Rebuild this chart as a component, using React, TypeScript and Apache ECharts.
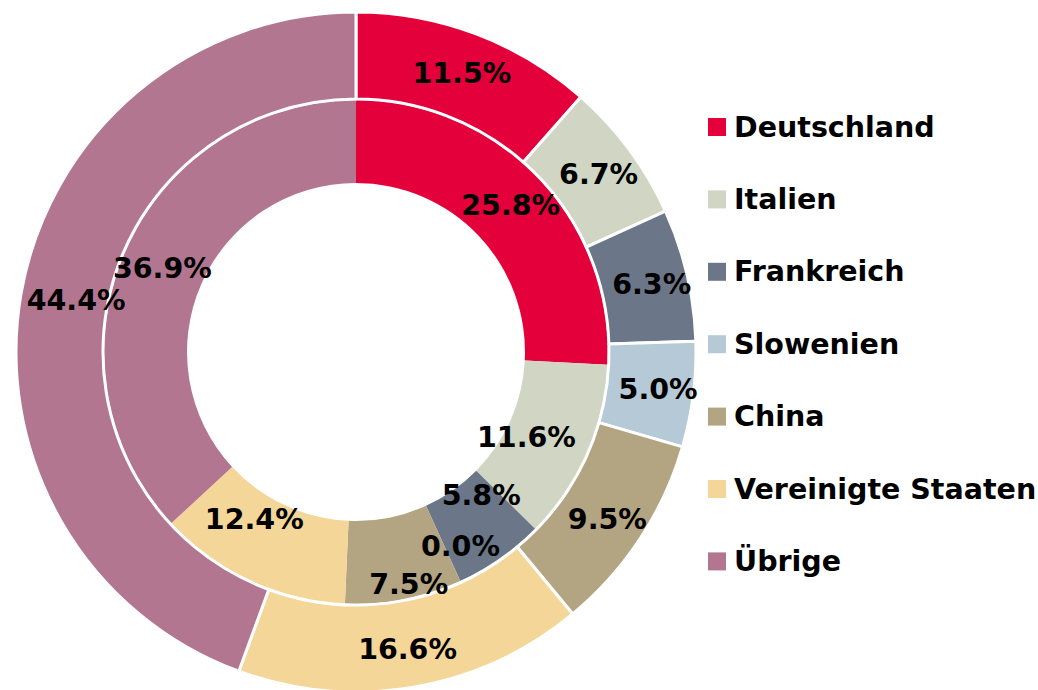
import React, { useEffect, useRef } from "react";
import * as echarts from "echarts";

const categories = ["Deutschland", "Italien", "Frankreich", "Slowenien", "China", "Vereinigte Staaten", "Übrige"];
const outerValues = [11.5, 6.7, 6.3, 5.0, 9.5, 16.6, 44.4];
const innerValues = [25.8, 11.6, 5.8, 0.0, 7.5, 12.4, 36.9];
const colors = ["#E4003A", "#D0D6C3", "#6B7788", "#B5C9D6", "#B3A582", "#F4D699", "#B27691"];

// label nudges to avoid overlaps (as in the reference)
const innerLabelOffsets: number[][] = [[0, 1], [-25, -1], [3, -32], [16, 0], [12, 23], [-12, -26], [2, 2]];
const outerLabelOffsets: number[][] = [[0, 2], [2, 1], [4, 1], [5, 0], [1, 3], [1, 2], [15, 1]];

const FONT = "'DejaVu Sans', sans-serif";

export default function App() {
  const ref = useRef<HTMLDivElement>(null);
  useEffect(() => {
    if (!ref.current) return;
    const chart = echarts.init(ref.current, undefined, { renderer: "svg" });
    const labelStyle = {
      show: true,
      position: "inside" as const,
      color: "#000",
      fontFamily: FONT,
      fontWeight: "bold" as const,
      fontSize: 28.5,
      formatter: (p: any) => p.value.toFixed(1) + "%",
    };
    chart.setOption({
      animation: false,
      color: colors,
      legend: {
        orient: "vertical",
        left: 708,
        top: 112,
        padding: 0,
        icon: "rect",
        itemWidth: 18,
        itemHeight: 18,
        itemGap: 42.4,
        selectedMode: false,
        data: categories,
        textStyle: {
          color: "#000",
          fontFamily: FONT,
          fontWeight: "bold",
          fontSize: 28.5,
          lineHeight: 30,
          padding: [0, 0, 0, 3],
        },
      },
      series: [
        {
          type: "pie",
          center: [356, 352],
          radius: [169, 252],
          startAngle: 90,
          clockwise: true,
          avoidLabelOverlap: false,
          minShowLabelAngle: 0,
          silent: true,
          itemStyle: { borderWidth: 0 },
          label: labelStyle,
          labelLine: { show: false },
          data: categories.map((name, i) => ({
            name,
            value: innerValues[i],
            label: { offset: innerLabelOffsets[i] },
          })),
        },
        {
          type: "pie",
          center: [356, 352],
          radius: [253, 340],
          startAngle: 90,
          clockwise: true,
          avoidLabelOverlap: false,
          silent: true,
          itemStyle: { borderColor: "#fff", borderWidth: 3 },
          label: labelStyle,
          labelLine: { show: false },
          data: categories.map((name, i) => ({
            name,
            value: outerValues[i],
            label: { offset: outerLabelOffsets[i] },
          })),
        },
      ],
    });
    return () => chart.dispose();
  }, []);
  return (
    <div
      ref={ref}
      style={{ position: "fixed", left: 0, top: 0, width: 1038, height: 690, background: "#fff" }}
    />
  );
}
